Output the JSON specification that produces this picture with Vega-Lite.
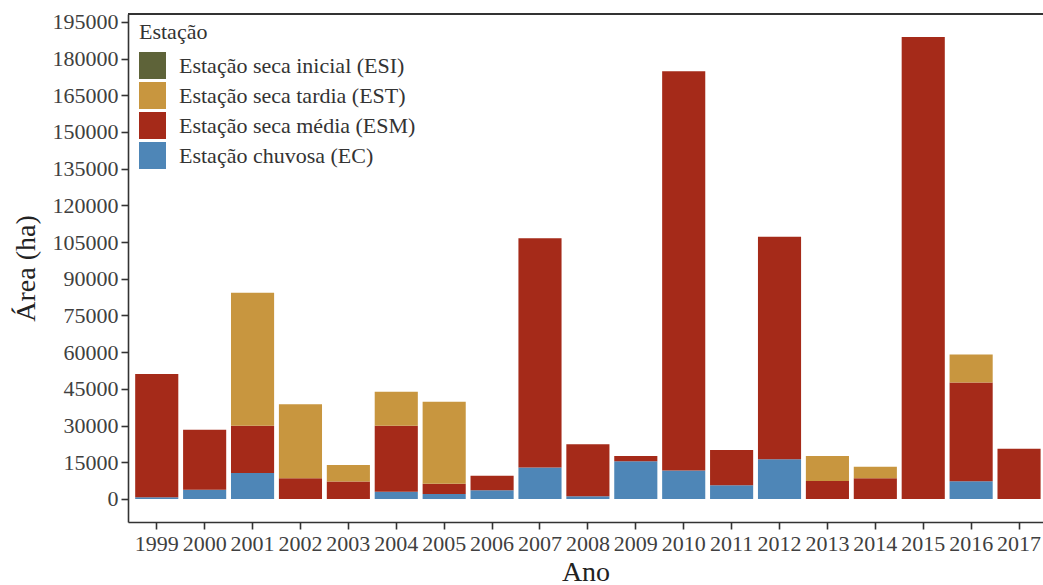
{
  "$schema": "https://vega.github.io/schema/vega-lite/v6.json",
  "autosize": {"type": "none"},
  "padding": {"left": 128, "top": 14, "right": 0, "bottom": 63},
  "width": 915,
  "height": 508,
  "background": "white",
  "config": {
    "font": "Liberation Serif",
    "view": {"stroke": null},
    "axis": {
      "labelFont": "Liberation Serif",
      "titleFont": "Liberation Serif",
      "labelFontSize": 22,
      "labelColor": "#404040",
      "titleColor": "#222222",
      "titleFontWeight": "normal",
      "titleFontSize": 28,
      "domainColor": "#333333",
      "domainWidth": 1.6,
      "tickColor": "#333333",
      "tickWidth": 1.6,
      "tickSize": 7,
      "grid": false,
      "labelOverlap": false
    },
    "legend": {
      "titleFont": "Liberation Serif",
      "labelFont": "Liberation Serif",
      "titleFontSize": 22,
      "titleFontWeight": "normal",
      "titleColor": "#333333",
      "labelFontSize": 22,
      "labelColor": "#333333",
      "labelLimit": 400
    }
  },
  "data": {
    "values": [
      {"ano": "1999", "estacao": "Estação chuvosa (EC)", "area": 700},
      {"ano": "1999", "estacao": "Estação seca média (ESM)", "area": 50400},
      {"ano": "2000", "estacao": "Estação chuvosa (EC)", "area": 3700},
      {"ano": "2000", "estacao": "Estação seca média (ESM)", "area": 24600},
      {"ano": "2001", "estacao": "Estação chuvosa (EC)", "area": 10600},
      {"ano": "2001", "estacao": "Estação seca média (ESM)", "area": 19300},
      {"ano": "2001", "estacao": "Estação seca tardia (EST)", "area": 54400},
      {"ano": "2002", "estacao": "Estação seca média (ESM)", "area": 8400},
      {"ano": "2002", "estacao": "Estação seca tardia (EST)", "area": 30300},
      {"ano": "2003", "estacao": "Estação seca média (ESM)", "area": 7100},
      {"ano": "2003", "estacao": "Estação seca tardia (EST)", "area": 6800},
      {"ano": "2004", "estacao": "Estação chuvosa (EC)", "area": 2900},
      {"ano": "2004", "estacao": "Estação seca média (ESM)", "area": 27000},
      {"ano": "2004", "estacao": "Estação seca tardia (EST)", "area": 13900},
      {"ano": "2005", "estacao": "Estação chuvosa (EC)", "area": 2000},
      {"ano": "2005", "estacao": "Estação seca média (ESM)", "area": 4200},
      {"ano": "2005", "estacao": "Estação seca tardia (EST)", "area": 33500},
      {"ano": "2006", "estacao": "Estação chuvosa (EC)", "area": 3500},
      {"ano": "2006", "estacao": "Estação seca média (ESM)", "area": 6000},
      {"ano": "2007", "estacao": "Estação chuvosa (EC)", "area": 12800},
      {"ano": "2007", "estacao": "Estação seca média (ESM)", "area": 93800},
      {"ano": "2008", "estacao": "Estação chuvosa (EC)", "area": 1100},
      {"ano": "2008", "estacao": "Estação seca média (ESM)", "area": 21200},
      {"ano": "2009", "estacao": "Estação chuvosa (EC)", "area": 15400},
      {"ano": "2009", "estacao": "Estação seca média (ESM)", "area": 2100},
      {"ano": "2010", "estacao": "Estação chuvosa (EC)", "area": 11600},
      {"ano": "2010", "estacao": "Estação seca média (ESM)", "area": 163200},
      {"ano": "2011", "estacao": "Estação chuvosa (EC)", "area": 5600},
      {"ano": "2011", "estacao": "Estação seca média (ESM)", "area": 14400},
      {"ano": "2012", "estacao": "Estação chuvosa (EC)", "area": 16200},
      {"ano": "2012", "estacao": "Estação seca média (ESM)", "area": 91000},
      {"ano": "2013", "estacao": "Estação seca média (ESM)", "area": 7300},
      {"ano": "2013", "estacao": "Estação seca tardia (EST)", "area": 10200},
      {"ano": "2014", "estacao": "Estação seca média (ESM)", "area": 8400},
      {"ano": "2014", "estacao": "Estação seca tardia (EST)", "area": 4700},
      {"ano": "2015", "estacao": "Estação seca média (ESM)", "area": 188800},
      {"ano": "2016", "estacao": "Estação chuvosa (EC)", "area": 7200},
      {"ano": "2016", "estacao": "Estação seca média (ESM)", "area": 40400},
      {"ano": "2016", "estacao": "Estação seca tardia (EST)", "area": 11400},
      {"ano": "2017", "estacao": "Estação seca média (ESM)", "area": 20500}
    ]
  },
  "layer": [
    {
      "mark": {"type": "bar", "strokeWidth": 0},
      "encoding": {
        "x": {
          "field": "ano",
          "type": "ordinal",
          "scale": {"paddingInner": 0.1, "paddingOuter": 0.1, "align": 0.75},
          "axis": {"title": "Ano", "labelAngle": 0, "labelPadding": 4, "titlePadding": 4}
        },
        "y": {
          "field": "area",
          "type": "quantitative",
          "stack": "zero",
          "scale": {"domain": [-9440, 198240], "nice": false, "zero": false},
          "axis": {
            "title": "Área (ha)",
            "values": [0, 15000, 30000, 45000, 60000, 75000, 90000, 105000, 120000, 135000, 150000, 165000, 180000, 195000],
            "format": "d",
            "labelPadding": 3,
            "titlePadding": 12
          }
        },
        "order": {"field": "estacao", "sort": "ascending"},
        "color": {
          "field": "estacao",
          "type": "nominal",
          "sort": ["Estação seca inicial (ESI)", "Estação seca tardia (EST)", "Estação seca média (ESM)", "Estação chuvosa (EC)"],
          "scale": {
            "domain": ["Estação seca inicial (ESI)", "Estação seca tardia (EST)", "Estação seca média (ESM)", "Estação chuvosa (EC)"],
            "range": ["#5E6339", "#C8963F", "#A52A19", "#4E86B7"]
          },
          "legend": {
            "title": "Estação",
            "orient": "none",
            "legendX": 11,
            "legendY": 8,
            "symbolType": "square",
            "symbolSize": 729,
            "symbolStrokeWidth": 0,
            "symbolOpacity": 1,
            "rowPadding": 3,
            "labelOffset": 13,
            "titlePadding": 8
          }
        }
      }
    },
    {
      "mark": {"type": "rule", "color": "#333333", "strokeWidth": 1.6},
      "encoding": {
        "y": {
          "datum": 198240,
          "type": "quantitative",
          "axis": {
            "title": "Área (ha)",
            "values": [0, 15000, 30000, 45000, 60000, 75000, 90000, 105000, 120000, 135000, 150000, 165000, 180000, 195000],
            "format": "d",
            "labelPadding": 3,
            "titlePadding": 12
          }
        }
      }
    }
  ]
}
